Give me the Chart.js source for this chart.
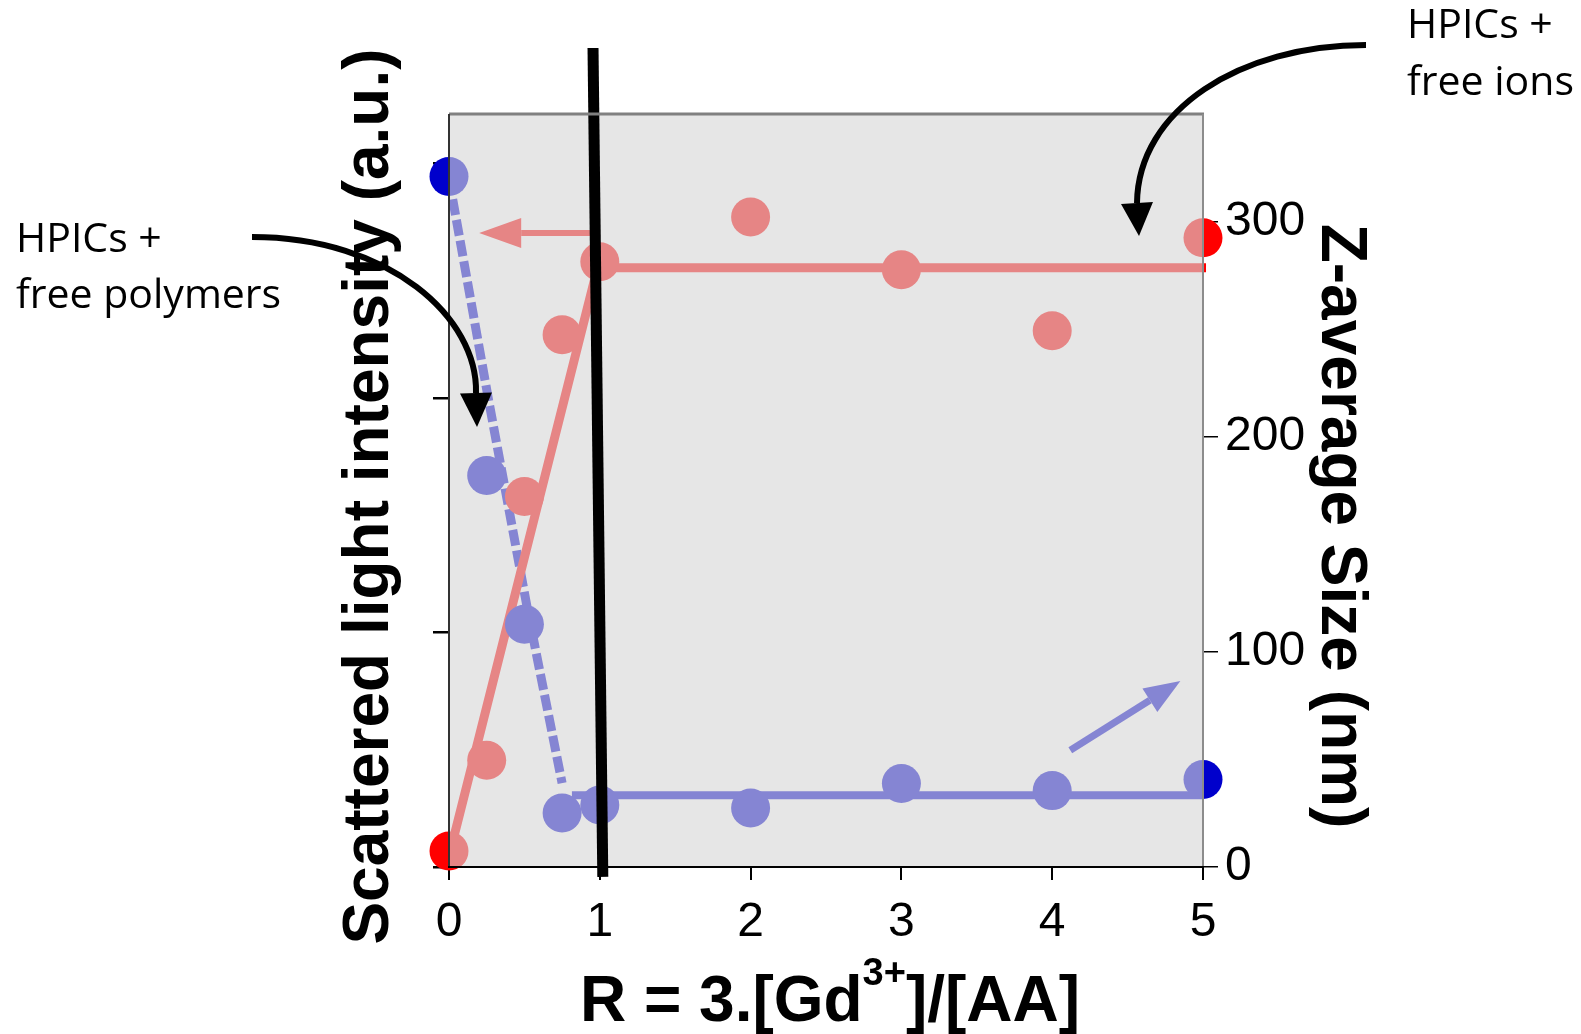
<!DOCTYPE html>
<html>
<head>
<meta charset="utf-8">
<script src="https://cdn.jsdelivr.net/npm/chart.js@4.4.1/dist/chart.umd.min.js"></script>
<style>
  body { margin: 0; background: #fff; }
  #wrap { width: 1581px; height: 1034px; }
</style>
</head>
<body>
<div id="wrap"><canvas id="chart" width="1581" height="1034"></canvas></div>
<script>
'use strict'

//R = 3.[Gd3+]/[AA]
let ratios = [0, 0.25, 0.5, 0.75, 1, 2, 3, 4, 5];
//scattered light intensity (a.u.) - left axis
let intensity = [0.068, 0.455, 1.579, 2.269, 2.580, 2.771, 2.546, 2.286, 2.682];
//z-average size (nm) - right axis
let zSize = [321, 182, 112.8, 25.1, 28.8, 27.4, 38.8, 35.5, 40.7];

//guide lines
let redFitX = [0.007, 0.985, 5.02];
let redFitY = [0.064, 2.555, 2.555];
let blueDropX = [0, 0.26, 0.52, 0.75];
let blueDropY = [320, 218, 120, 39];
let bluePlateauX = [0.815, 5];
let bluePlateauY = [33.4, 33.4];
//thick black separator near R = 1 (right axis units)
let sepX = [0.955, 1.02];
let sepY = [380.7, -4.6];

//small arrows pointing at each axis
let redArrowX = [0.965, 0.2];
let redArrowY = [2.703, 2.703];
let blueArrowX = [4.12, 4.85];
let blueArrowY = [54.3, 86.4];

//ticks
let xTicks = [0, 1, 2, 3, 4, 5];
let leftTicks = [0, 1, 2, 3];
let rightTicks = [0, 100, 200, 300];

let ctx = document.getElementById('chart').getContext('2d');

function pts(xs, ys){
  return xs.map((x, i) => ({x: x, y: ys[i]}));
}

function straightArrow(c, x0, y0, x1, y1, color, width, len, half){
  let ang = Math.atan2(y1 - y0, x1 - x0);
  let bx = x1 - len * Math.cos(ang);
  let by = y1 - len * Math.sin(ang);
  c.save();
  c.strokeStyle = color;
  c.fillStyle = color;
  c.lineWidth = width;
  c.beginPath();
  c.moveTo(x0, y0);
  c.lineTo(bx, by);
  c.stroke();
  c.beginPath();
  c.moveTo(x1, y1);
  c.lineTo(bx + half * Math.sin(ang), by - half * Math.cos(ang));
  c.lineTo(bx - half * Math.sin(ang), by + half * Math.cos(ang));
  c.closePath();
  c.fill();
  c.restore();
}

function curvedArrow(c, p0, p1, p2, p3, tip){
  c.save();
  c.strokeStyle = '#000';
  c.fillStyle = '#000';
  c.lineWidth = 6;
  c.beginPath();
  c.moveTo(p0[0], p0[1]);
  c.bezierCurveTo(p1[0], p1[1], p2[0], p2[1], p3[0], p3[1]);
  c.stroke();
  let ang = Math.atan2(tip[1] - p3[1], tip[0] - p3[0]);
  let half = 16;
  c.beginPath();
  c.moveTo(tip[0], tip[1]);
  c.lineTo(p3[0] + half * Math.sin(ang), p3[1] - half * Math.cos(ang));
  c.lineTo(p3[0] - half * Math.sin(ang), p3[1] + half * Math.cos(ang));
  c.closePath();
  c.fill();
  c.restore();
}

//draws arrows under the grey veil, the veil itself, frame and all texts
let decor = {
  id: 'decor',
  beforeDatasetsDraw(chart){
    let c = chart.ctx;
    let xs = chart.scales.x, yl = chart.scales.yL, yr = chart.scales.yR;
    straightArrow(c, xs.getPixelForValue(redArrowX[0]), yl.getPixelForValue(redArrowY[0]),
      xs.getPixelForValue(redArrowX[1]), yl.getPixelForValue(redArrowY[1]), '#ff0000', 6, 42, 15);
    straightArrow(c, xs.getPixelForValue(blueArrowX[0]), yr.getPixelForValue(blueArrowY[0]),
      xs.getPixelForValue(blueArrowX[1]), yr.getPixelForValue(blueArrowY[1]), '#0000cc', 7, 36, 14);
  },
  afterDatasetDraw(chart, args){
    //veil goes on top of everything except the black separator (dataset 0)
    if(args.index !== 1) return;
    let a = chart.chartArea;
    let c = chart.ctx;
    c.save();
    c.fillStyle = 'rgba(214,214,214,0.62)';
    c.fillRect(a.left, a.top, a.right - a.left, a.bottom - a.top);
    c.restore();
  },
  afterDraw(chart){
    let c = chart.ctx;
    let a = chart.chartArea;
    c.save();
    //frame
    c.lineWidth = 3;
    c.strokeStyle = '#808080';
    c.beginPath(); c.moveTo(a.left, a.top); c.lineTo(a.right + 1, a.top); c.stroke();
    c.lineWidth = 2;
    c.strokeStyle = '#8c8c8c';
    c.beginPath(); c.moveTo(a.right, a.top); c.lineTo(a.right, a.bottom); c.stroke();
    c.strokeStyle = '#333';
    c.beginPath(); c.moveTo(a.left, a.top); c.lineTo(a.left, a.bottom); c.stroke();
    c.strokeStyle = '#000';
    c.beginPath(); c.moveTo(a.left - 1, a.bottom); c.lineTo(a.right + 1, a.bottom); c.stroke();

    //axis titles
    c.fillStyle = '#000';
    c.font = 'bold 64px "Liberation Sans", Arial, sans-serif';
    c.textAlign = 'center';
    c.textBaseline = 'alphabetic';
    c.save();
    c.translate(388, (a.top + a.bottom) / 2 + 6);
    c.rotate(-Math.PI / 2);
    c.fillText('Scattered light intensity (a.u.)', 0, 0);
    c.restore();
    c.save();
    c.translate(1322, 526);
    c.rotate(Math.PI / 2);
    c.fillText('Z-average Size (nm)', 0, 0);
    c.restore();

    //x title with superscript
    let partA = 'R = 3.[Gd', sup = '3+', partB = ']/[AA]';
    let bigFont = 'bold 64px "Liberation Sans", Arial, sans-serif';
    let supFont = 'bold 38px "Liberation Sans", Arial, sans-serif';
    c.textAlign = 'left';
    c.font = bigFont;
    let wA = c.measureText(partA).width, wB = c.measureText(partB).width;
    c.font = supFont;
    let wS = c.measureText(sup).width;
    let total = wA + wS + wB;
    let x0 = (a.left + a.right) / 2 + 4 - total / 2;
    let base = 1021;
    c.font = bigFont;
    c.fillText(partA, x0, base);
    c.font = supFont;
    c.fillText(sup, x0 + wA, base - 36);
    c.font = bigFont;
    c.fillText(partB, x0 + wA + wS, base);

    //annotations
    c.font = '41px "Open Sans", sans-serif';
    c.fillText('HPICs +', 16, 252);
    c.fillText('free polymers', 16, 308);
    c.fillText('HPICs +', 1407, 38);
    c.fillText('free ions', 1407, 95);
    c.restore();

    curvedArrow(c, [252, 237], [390, 237], [478, 318], [476, 393], [477, 427]);
    curvedArrow(c, [1366, 45], [1240, 45], [1138, 110], [1137, 203], [1139, 236]);
  }
};

let tickFont = {family: '"Liberation Sans", Arial, sans-serif', size: 48};

let myChartObj = {
  type: 'scatter',
  data: {
    datasets: [{
      //0: black separator, drawn last
      data: pts(sepX, sepY),
      yAxisID: 'yR',
      showLine: true,
      borderColor: '#000',
      borderWidth: 11,
      pointRadius: 0,
      clip: false
    },
    {
      //1: intensity points
      data: pts(ratios, intensity),
      yAxisID: 'yL',
      backgroundColor: '#ff0000',
      borderWidth: 0,
      pointRadius: 19.5,
      clip: false
    },
    {
      //2: size points
      data: pts(ratios, zSize),
      yAxisID: 'yR',
      backgroundColor: '#0000cc',
      borderWidth: 0,
      pointRadius: 19.5,
      clip: false
    },
    {
      data: pts(redFitX, redFitY),
      yAxisID: 'yL',
      showLine: true,
      borderColor: '#ff0000',
      borderWidth: 9,
      pointRadius: 0,
      clip: false
    },
    {
      data: pts(blueDropX, blueDropY),
      yAxisID: 'yR',
      showLine: true,
      borderColor: '#0000cc',
      borderWidth: 9,
      borderDash: [16, 5],
      pointRadius: 0,
      clip: false
    },
    {
      data: pts(bluePlateauX, bluePlateauY),
      yAxisID: 'yR',
      showLine: true,
      borderColor: '#0000cc',
      borderWidth: 8,
      pointRadius: 0,
      clip: false
    }]
  },
  options: {
    responsive: false,
    animation: false,
    events: [],
    layout: {padding: {top: 114, left: 0, right: 0, bottom: 0}},
    plugins: {legend: {display: false}, tooltip: {enabled: false}},
    scales: {
      x: {
        type: 'linear',
        min: 0,
        max: 5,
        afterFit(scale){ scale.height = 167; },
        afterBuildTicks(scale){ scale.ticks = xTicks.map(v => ({value: v})); },
        grid: {drawOnChartArea: false, drawTicks: true, tickLength: 13, color: '#000', lineWidth: 2},
        border: {display: false},
        ticks: {color: '#000', font: tickFont, padding: 14, maxRotation: 0}
      },
      yL: {
        type: 'linear',
        position: 'left',
        min: 0,
        max: 3.21,
        afterFit(scale){ scale.width = 449; },
        afterBuildTicks(scale){ scale.ticks = leftTicks.map(v => ({value: v})); },
        grid: {drawOnChartArea: false, drawTicks: true, tickLength: 16, color: '#000', lineWidth: 2.5},
        border: {display: false},
        ticks: {display: false}
      },
      yR: {
        type: 'linear',
        position: 'right',
        min: 0,
        max: 350,
        afterFit(scale){ scale.width = 1581 - 1203; },
        afterBuildTicks(scale){ scale.ticks = rightTicks.map(v => ({value: v})); },
        grid: {drawOnChartArea: false, drawTicks: true, tickLength: 15, color: '#000', lineWidth: 1.5},
        border: {display: false},
        ticks: {color: '#000', font: tickFont, padding: 7}
      }
    }
  },
  plugins: [decor]
};

new Chart(ctx, myChartObj);
</script>
</body>
</html>
